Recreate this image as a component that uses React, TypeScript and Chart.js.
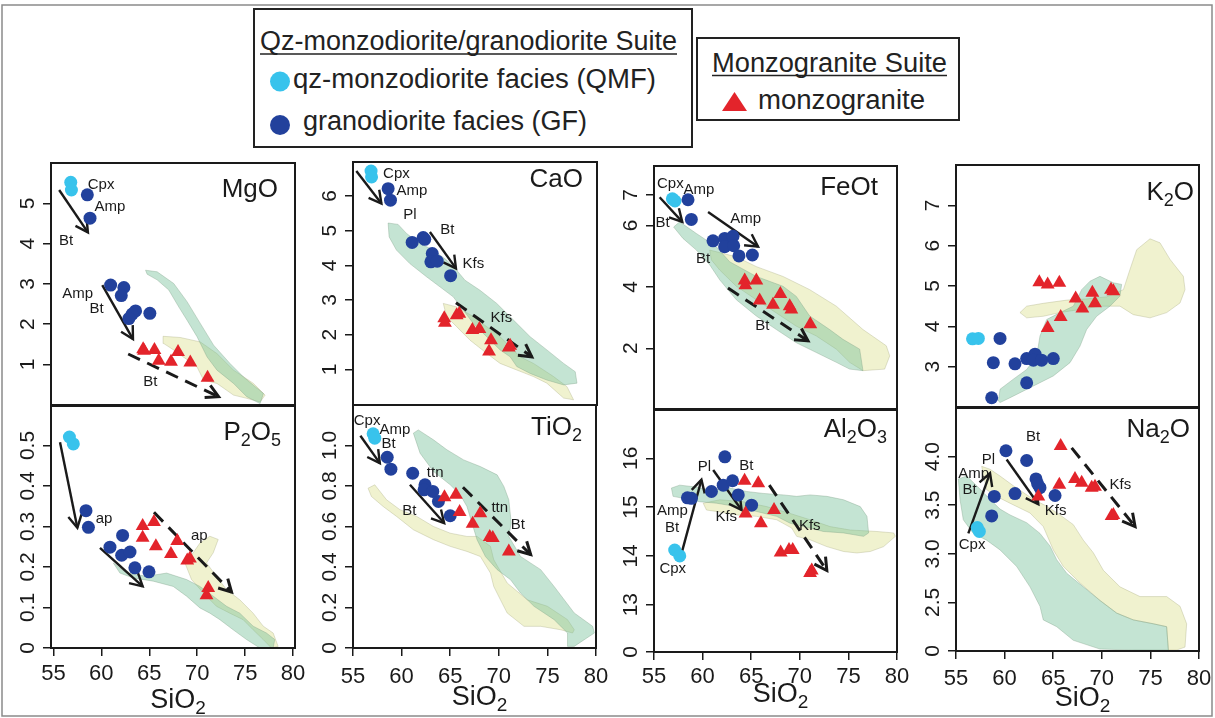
import React, { useEffect, useRef } from "react";
import { Chart, registerables } from "chart.js";

Chart.register(...registerables);

const FONT = '"Liberation Sans", Arial, Helvetica, sans-serif';
const INK = "#1a1a1a";
const QMF_COLOR = "#38C3EC";
const GF_COLOR = "#22419C";
const MZG_COLOR = "#E3242B";
const GREEN_FILL = "rgba(115,190,150,0.42)";
const YELLOW_FILL = "rgba(215,222,130,0.38)";

type Pt = [number, number];
type Arrow = [number, number, number, number, number];
type Lbl = [string, number, number];

// ---------------- shared ticks ----------------
const xTicks = [55, 60, 65, 70, 75, 80];

// ---------------- MgO ----------------
const mgoYTicks = [1, 2, 3, 4, 5];
const mgoYLabels = ["1", "2", "3", "4", "5"];
const mgoQMF: Pt[] = [[56.81, 5.52], [56.88, 5.33]];
const mgoGF: Pt[] = [[58.54, 5.21], [58.82, 4.63], [60.97, 2.97], [62.35, 2.91], [62.08, 2.71], [63.57, 2.33], [63.22, 2.25], [62.87, 2.14], [65.06, 2.27]];
const mgoMZG: Pt[] = [[64.36, 1.38], [64.45, 1.34], [65.54, 1.36], [65.99, 1.09], [67.27, 1.07], [68.0, 1.31], [69.28, 1.05], [71.08, 0.67]];
const mgoGreen: Pt[] = [[64.61, 3.34], [65.82, 3.3], [67.55, 3.01], [68.94, 2.56], [70.32, 2.02], [71.71, 1.48], [73.44, 1.02], [74.83, 0.69], [76.91, 0.28], [76.56, 0.03], [75.17, 0.2], [73.79, 0.53], [72.06, 0.86], [71.02, 1.19], [69.98, 1.69], [68.94, 2.1], [68.07, 2.43], [67.03, 2.85], [65.82, 3.1], [64.78, 3.24]];
const mgoYellow: Pt[] = [[66.44, 1.7], [68.24, 1.67], [70.32, 1.56], [72.06, 1.27], [73.79, 0.86], [75.87, 0.53], [77.08, 0.24], [76.56, 0.07], [75.17, 0.16], [73.79, 0.24], [72.06, 0.53], [70.67, 0.61], [69.98, 0.94], [67.55, 1.36], [66.51, 1.52]];
const mgoArrows: Arrow[] = [[55.6, 5.33, 58.6, 4.28, 0], [60.1, 2.97, 63.3, 1.63, 0], [62.8, 1.26, 72.23, 0.2, 1]];
const mgoLabels: Lbl[] = [["Cpx", 59.97, 5.45], ["Amp", 60.9, 4.92], ["Bt", 56.32, 4.07], ["Amp", 57.54, 2.76], ["Bt", 59.51, 2.37], ["Bt", 65.1, 0.56]];

// ---------------- CaO ----------------
const caoYTicks = [1, 2, 3, 4, 5, 6];
const caoYLabels = ["1", "2", "3", "4", "5", "6"];
const caoQMF: Pt[] = [[56.85, 6.72], [56.9, 6.55]];
const caoGF: Pt[] = [[58.6, 6.21], [58.84, 5.88], [61.06, 4.66], [62.19, 4.8], [62.35, 4.75], [63.12, 4.34], [62.98, 4.1], [63.63, 4.12], [65.0, 3.7]];
const caoMZG: Pt[] = [[64.35, 2.47], [64.42, 2.34], [65.62, 2.56], [65.89, 2.6], [67.23, 2.13], [67.95, 2.16], [69.14, 1.84], [68.94, 1.51], [70.96, 1.63], [71.1, 1.68]];
const caoGreen: Pt[] = [[58.6, 5.22], [59.62, 5.18], [60.48, 4.92], [61.85, 4.63], [63.22, 4.44], [64.59, 4.15], [65.62, 3.86], [66.47, 3.57], [68.01, 3.28], [69.73, 2.9], [71.44, 2.42], [73.15, 1.94], [74.86, 1.56], [76.58, 1.17], [77.77, 0.93], [77.95, 0.6], [76.58, 0.55], [74.86, 0.69], [73.15, 0.88], [71.78, 1.08], [71.1, 1.36], [70.07, 1.56], [68.7, 1.94], [67.33, 2.32], [66.3, 2.71], [65.27, 3.09], [63.9, 3.38], [62.53, 3.67], [60.82, 4.05], [59.45, 4.44], [58.7, 4.82]];
const caoYellow: Pt[] = [[64.25, 2.9], [65.62, 2.8], [67.33, 2.52], [68.7, 2.23], [70.07, 1.94], [71.1, 1.65], [72.12, 1.36], [73.49, 1.17], [75.55, 0.79], [76.92, 0.5], [77.6, 0.12], [76.58, 0.17], [74.86, 0.6], [73.49, 0.79], [71.78, 0.98], [70.07, 1.17], [68.7, 1.46], [66.99, 1.84], [65.62, 2.23], [64.59, 2.52]];
const caoArrows: Arrow[] = [[55.34, 6.72, 57.91, 5.78, 0], [62.88, 4.96, 65.55, 3.91, 0], [65.55, 2.92, 73.32, 1.36, 1]];
const caoLabels: Lbl[] = [["Cpx", 59.45, 6.64], ["Amp", 61.03, 6.16], ["Pl", 60.82, 5.46], ["Bt", 64.66, 5.01], ["Kfs", 67.33, 4.05], ["Kfs", 70.21, 2.47]];

// ---------------- FeOt ----------------
const feYTicks = [2, 4, 6, 7];
const feYLabels = ["2", "4", "6", "7"];
const feQMF: Pt[] = [[56.89, 6.87], [57.16, 6.8]];
const feGF: Pt[] = [[58.5, 6.84], [58.84, 6.2], [61.07, 5.5], [62.27, 5.58], [63.13, 5.65], [62.27, 5.31], [63.2, 5.34], [63.74, 5.01], [65.12, 5.04]];
const feMZG: Pt[] = [[64.33, 4.21], [64.4, 4.05], [65.53, 4.21], [65.87, 3.56], [68.0, 3.77], [67.24, 3.42], [68.96, 3.37], [69.13, 3.26], [71.08, 2.78]];
const feGreen: Pt[] = [[57.02, 5.95], [57.64, 6.12], [59.36, 5.74], [61.41, 5.31], [62.78, 4.82], [65.53, 4.34], [68.27, 4.02], [69.64, 3.69], [71.02, 3.05], [73.07, 2.61], [74.44, 2.29], [76.16, 1.97], [76.5, 1.27], [75.13, 1.32], [73.76, 1.54], [71.7, 1.86], [69.64, 2.18], [67.59, 2.61], [65.53, 3.05], [63.47, 3.58], [61.76, 4.23], [60.73, 4.72], [59.36, 5.2], [57.98, 5.58]];
const feYellow: Pt[] = [[60.73, 5.2], [63.47, 4.98], [65.53, 4.66], [68.27, 4.34], [71.02, 3.91], [73.76, 3.37], [76.5, 2.61], [78.9, 2.08], [79.25, 1.75], [78.73, 1.32], [76.5, 1.27], [75.13, 1.54], [73.76, 1.97], [71.7, 2.4], [69.64, 2.72], [67.59, 3.15], [65.53, 3.58], [63.47, 4.02], [61.76, 4.55], [60.9, 4.88]];
const feArrows: Arrow[] = [[55.58, 6.92, 57.91, 6.12, 0], [60.56, 6.44, 65.7, 5.31, 0], [62.61, 3.96, 70.84, 2.24, 1]];
const feLabels: Lbl[] = [["Cpx", 56.68, 7.36], ["Amp", 59.63, 7.16], ["Bt", 55.89, 6.08], ["Amp", 64.43, 6.22], ["Bt", 60.04, 4.9], ["Bt", 66.15, 2.72]];

// ---------------- K2O ----------------
const k2oYTicks = [3, 4, 5, 6, 7];
const k2oYLabels = ["3", "4", "5", "6", "7"];
const k2oQMF: Pt[] = [[56.7, 3.69], [57.3, 3.7]];
const k2oGF: Pt[] = [[59.53, 3.7], [58.84, 3.1], [61.07, 3.07], [62.27, 3.2], [63.13, 3.31], [62.96, 3.16], [63.81, 3.16], [65.01, 3.2], [62.27, 2.6], [58.67, 2.23]];
const k2oMZG: Pt[] = [[63.57, 5.09], [64.43, 5.04], [65.63, 5.08], [67.31, 4.69], [69.03, 4.83], [69.3, 4.57], [68.0, 4.44], [65.77, 4.23], [64.43, 3.96], [70.95, 4.91], [71.19, 4.87]];
const k2oGreen: Pt[] = [[59.36, 2.15], [59.53, 2.44], [60.9, 2.69], [62.27, 2.93], [63.3, 3.26], [63.64, 3.76], [64.33, 4.17], [65.7, 4.34], [67.07, 4.5], [67.93, 4.91], [68.79, 5.12], [69.81, 5.24], [71.19, 5.08], [72.04, 5.04], [71.87, 4.75], [70.84, 4.5], [69.47, 4.25], [68.44, 3.92], [67.76, 3.51], [66.73, 3.1], [65.01, 2.77], [62.96, 2.52], [60.56, 2.23], [59.53, 2.11]];
const k2oYellow: Pt[] = [[61.58, 4.34], [62.27, 4.5], [63.98, 4.57], [66.39, 4.65], [68.44, 4.68], [70.5, 4.73], [72.22, 4.91], [72.9, 5.41], [73.59, 5.9], [74.96, 6.17], [75.99, 6.07], [77.02, 5.66], [78.39, 5.24], [78.56, 4.91], [78.05, 4.58], [76.67, 4.34], [74.96, 4.21], [73.24, 4.29], [71.87, 4.5], [69.81, 4.5], [67.76, 4.42], [65.7, 4.34], [63.98, 4.25], [62.27, 4.21]];
const k2oArrows: Arrow[] = [];
const k2oLabels: Lbl[] = [];

// ---------------- P2O5 ----------------
const p2o5YTicks = [0, 0.1, 0.2, 0.3, 0.4, 0.5];
const p2o5YLabels = ["0", "0.1", "0.2", "0.3", "0.4", "0.5"];
const p2o5QMF: Pt[] = [[56.67, 0.521], [57.08, 0.504]];
const p2o5GF: Pt[] = [[58.4, 0.339], [58.65, 0.298], [60.9, 0.249], [62.22, 0.278], [62.12, 0.229], [62.99, 0.237], [63.5, 0.198], [64.97, 0.188]];
const p2o5MZG: Pt[] = [[64.31, 0.301], [64.31, 0.272], [65.49, 0.311], [65.69, 0.251], [67.26, 0.232], [67.92, 0.264], [68.96, 0.216], [69.24, 0.221], [71.15, 0.148], [70.97, 0.13]];
const p2o5Green: Pt[] = [[61.25, 0.21], [62.64, 0.185], [64.72, 0.177], [66.81, 0.185], [68.89, 0.169], [70.28, 0.152], [71.67, 0.128], [73.06, 0.103], [74.44, 0.086], [75.83, 0.054], [77.22, 0.037], [78.09, 0.021], [77.92, 0.0], [76.53, 0.0], [75.14, 0.021], [73.75, 0.045], [72.36, 0.07], [71.32, 0.086], [70.28, 0.099], [68.89, 0.128], [67.5, 0.152], [65.42, 0.165], [63.33, 0.173], [61.94, 0.185]];
const p2o5Yellow: Pt[] = [[68.72, 0.21], [69.58, 0.235], [70.28, 0.259], [71.32, 0.276], [72.19, 0.268], [71.67, 0.235], [70.97, 0.21], [72.01, 0.177], [73.06, 0.144], [74.44, 0.119], [75.83, 0.086], [76.88, 0.054], [77.92, 0.037], [78.44, 0.004], [77.74, 0.0], [76.88, 0.021], [75.83, 0.045], [74.79, 0.07], [73.4, 0.086], [72.01, 0.103], [70.63, 0.136], [69.41, 0.169]];
const p2o5Arrows: Arrow[] = [[55.69, 0.508, 57.5, 0.297, 0], [59.86, 0.247, 64.31, 0.152, 0], [65.49, 0.335, 73.58, 0.138, 1]];
const p2o5Labels: Lbl[] = [["ap", 60.28, 0.319], ["ap", 70.21, 0.278]];

// ---------------- TiO2 ----------------
const tio2YTicks = [0, 0.2, 0.4, 0.6, 0.8, 1.0];
const tio2YLabels = ["0", "0.2", "0.4", "0.6", "0.8", "1.0"];
const tio2QMF: Pt[] = [[57.07, 1.058], [57.24, 1.036]];
const tio2GF: Pt[] = [[58.52, 0.942], [58.9, 0.883], [61.14, 0.863], [62.41, 0.806], [62.31, 0.781], [63.21, 0.773], [63.79, 0.724], [65.0, 0.653]];
const tio2MZG: Pt[] = [[64.41, 0.745], [65.59, 0.757], [65.97, 0.671], [67.31, 0.613], [68.1, 0.666], [69.07, 0.548], [69.38, 0.543], [71.03, 0.477]];
const tio2Green: Pt[] = [[61.21, 1.061], [61.72, 1.077], [63.28, 1.028], [64.66, 0.979], [66.38, 0.929], [68.1, 0.896], [69.83, 0.855], [70.52, 0.798], [71.03, 0.732], [71.28, 0.617], [71.03, 0.551], [72.24, 0.452], [74.31, 0.387], [75.69, 0.304], [77.76, 0.173], [79.66, 0.107], [79.83, 0.074], [78.79, 0.041], [77.76, 0.008], [77.07, 0.008], [77.07, 0.074], [75.69, 0.14], [73.62, 0.206], [72.24, 0.271], [71.21, 0.337], [69.83, 0.387], [68.62, 0.452], [67.76, 0.535], [67.24, 0.617], [66.72, 0.699], [66.03, 0.757], [65.0, 0.806], [63.28, 0.872], [61.9, 0.962]];
const tio2Yellow: Pt[] = [[56.55, 0.789], [57.24, 0.806], [58.45, 0.732], [59.83, 0.683], [61.55, 0.65], [63.28, 0.6], [65.0, 0.567], [66.72, 0.551], [67.76, 0.551], [69.14, 0.502], [69.48, 0.436], [70.86, 0.321], [72.93, 0.238], [75.0, 0.206], [77.07, 0.14], [77.76, 0.09], [77.59, 0.074], [76.38, 0.09], [74.31, 0.107], [72.59, 0.107], [70.86, 0.173], [70.17, 0.238], [69.48, 0.304], [69.14, 0.37], [68.1, 0.452], [66.72, 0.477], [65.0, 0.502], [63.28, 0.535], [61.21, 0.584], [59.48, 0.65], [58.1, 0.699], [56.9, 0.748]];
const tio2Arrows: Arrow[] = [[55.76, 1.048, 57.76, 0.913, 0], [60.86, 0.806, 64.38, 0.617, 0], [66.31, 0.794, 73.28, 0.461, 1]];
const tio2Labels: Lbl[] = [["Cpx", 56.45, 1.123], ["Amp", 59.31, 1.077], ["Bt", 58.66, 1.01], ["ttn", 63.45, 0.867], ["Bt", 60.79, 0.679], ["ttn", 70.1, 0.691], ["Bt", 71.97, 0.609]];

// ---------------- Al2O3 (axis break: bottom labelled "0") ----------------
const al2o3YTicks = [12.03, 13, 14, 15, 16];
const al2o3YLabels = ["0", "13", "14", "15", "16"];
const al2o3QMF: Pt[] = [[57.13, 14.12], [57.65, 14.0]];
const al2o3GF: Pt[] = [[62.29, 16.03], [58.44, 15.19], [58.85, 15.18], [60.91, 15.32], [62.12, 15.45], [63.08, 15.54], [63.67, 15.25], [65.04, 15.04]];
const al2o3MZG: Pt[] = [[64.32, 15.54], [65.73, 15.49], [64.42, 14.87], [66.0, 14.67], [67.35, 14.94], [68.03, 14.07], [68.89, 14.12], [69.27, 14.12], [71.06, 13.65], [71.23, 13.7]];
const al2o3Green: Pt[] = [[56.79, 15.39], [57.65, 15.45], [59.37, 15.41], [60.74, 15.35], [62.81, 15.39], [64.53, 15.32], [66.24, 15.28], [68.31, 15.25], [69.68, 15.22], [71.06, 15.25], [72.78, 15.22], [74.5, 15.15], [76.22, 15.01], [76.91, 14.81], [77.08, 14.47], [76.56, 14.4], [74.5, 14.47], [72.43, 14.5], [70.37, 14.6], [69.0, 14.67], [67.62, 14.81], [65.56, 14.91], [63.49, 15.01], [61.43, 15.08], [59.71, 15.11], [57.99, 15.18], [56.96, 15.22]];
const al2o3Yellow: Pt[] = [[60.06, 15.08], [61.77, 15.15], [64.18, 15.11], [66.59, 15.01], [69.0, 14.87], [71.06, 14.74], [73.12, 14.6], [75.19, 14.53], [77.94, 14.5], [79.66, 14.47], [79.83, 14.4], [78.62, 14.19], [77.25, 14.09], [75.87, 14.06], [74.5, 14.09], [72.78, 14.19], [71.06, 14.33], [69.68, 14.4], [69.17, 14.57], [67.62, 14.74], [65.56, 14.81], [63.49, 14.84], [61.43, 14.91], [60.4, 14.94]];
const al2o3Arrows: Arrow[] = [[57.75, 13.99, 59.88, 15.56, 0], [61.09, 15.76, 64.01, 14.94, 0], [66.86, 15.45, 72.78, 13.7, 1]];
const al2o3Labels: Lbl[] = [["Pl", 60.19, 15.83], ["Bt", 64.49, 15.84], ["Amp", 56.89, 14.92], ["Bt", 56.86, 14.58], ["Cpx", 56.93, 13.73], ["Kfs", 62.43, 14.79], ["Kfs", 71.02, 14.62]];

// ---------------- Na2O (axis break: bottom labelled "0") ----------------
const na2oYTicks = [2.0, 2.5, 3.0, 3.5, 4.0];
const na2oYLabels = ["0", "2.5", "3.0", "3.5", "4.0"];
const na2oQMF: Pt[] = [[57.19, 3.27], [57.4, 3.23]];
const na2oGF: Pt[] = [[60.14, 4.06], [62.27, 3.96], [63.23, 3.77], [63.64, 3.68], [61.07, 3.62], [58.94, 3.59], [58.67, 3.39], [65.19, 3.6], [63.4, 3.72]];
const na2oMZG: Pt[] = [[65.77, 4.11], [65.63, 3.71], [67.24, 3.77], [67.93, 3.73], [68.96, 3.68], [69.3, 3.69], [63.47, 3.59], [71.01, 3.39], [71.19, 3.4]];
const na2oGreen: Pt[] = [[55.24, 3.77], [56.1, 3.8], [57.13, 3.7], [58.5, 3.56], [59.53, 3.46], [60.56, 3.4], [62.27, 3.32], [63.64, 3.21], [64.67, 3.08], [65.36, 2.94], [66.39, 2.8], [68.1, 2.66], [69.81, 2.52], [71.53, 2.39], [73.24, 2.32], [75.3, 2.28], [76.67, 2.25], [76.85, 2.01], [73.24, 2.01], [69.81, 2.02], [67.07, 2.11], [65.36, 2.25], [63.98, 2.32], [63.64, 2.46], [62.61, 2.66], [61.24, 2.87], [59.53, 3.04], [58.15, 3.14], [56.78, 3.21], [55.75, 3.35], [55.41, 3.56]];
const na2oYellow: Pt[] = [[57.64, 3.9], [58.5, 3.87], [59.53, 3.8], [60.9, 3.7], [61.93, 3.63], [62.96, 3.56], [64.33, 3.49], [65.7, 3.4], [67.07, 3.3], [68.1, 3.14], [69.13, 3.01], [70.16, 2.83], [71.87, 2.66], [73.93, 2.56], [76.67, 2.56], [78.05, 2.46], [78.73, 2.28], [78.56, 2.04], [77.7, 2.01], [76.85, 2.01], [76.67, 2.25], [75.3, 2.28], [73.24, 2.32], [71.53, 2.39], [69.81, 2.52], [67.76, 2.7], [66.04, 2.87], [65.01, 3.04], [63.98, 3.28], [62.61, 3.42], [60.56, 3.52], [59.18, 3.59], [58.15, 3.66]];
const na2oArrows: Arrow[] = [[56.27, 3.21, 58.5, 3.83, 0], [60.21, 3.97, 63.47, 3.51, 0], [66.9, 4.09, 73.42, 3.28, 1]];
const na2oLabels: Lbl[] = [["Bt", 62.92, 4.2], ["Pl", 58.33, 3.97], ["Amp", 56.82, 3.82], ["Bt", 56.41, 3.66], ["Cpx", 56.65, 3.09], ["Kfs", 65.25, 3.44], ["Kfs", 71.91, 3.71]];

// ---------------- panel layout ----------------
type Panel = {
  key: string;
  box: [number, number, number, number];
  xRange: [number, number];
  yRange: [number, number];
  yTicks: number[];
  yLabels: string[];
  title: [string, number][];
  titleOff: [number, number];
  bottomRow: boolean;
  xLabelOff: number;
  xTitleOff: number;
  qmf: Pt[]; gf: Pt[]; mzg: Pt[]; green: Pt[]; yellow: Pt[]; arrows: Arrow[]; labels: Lbl[];
};

const panels: Panel[] = [
  { key: "MgO", box: [51, 163, 295, 406], xRange: [54.75, 80.2], yRange: [-0.03, 6.0], yTicks: mgoYTicks, yLabels: mgoYLabels, title: [["MgO", 0]], titleOff: [17, 34], bottomRow: false, xLabelOff: 0, xTitleOff: 0, qmf: mgoQMF, gf: mgoGF, mzg: mgoMZG, green: mgoGreen, yellow: mgoYellow, arrows: mgoArrows, labels: mgoLabels },
  { key: "CaO", box: [353, 162, 597, 405], xRange: [55, 80], yRange: [-0.03, 6.98], yTicks: caoYTicks, yLabels: caoYLabels, title: [["CaO", 0]], titleOff: [14, 25], bottomRow: false, xLabelOff: 0, xTitleOff: 0, qmf: caoQMF, gf: caoGF, mzg: caoMZG, green: caoGreen, yellow: caoYellow, arrows: caoArrows, labels: caoLabels },
  { key: "FeOt", box: [654, 166, 897, 409], xRange: [55, 80], yRange: [0.02, 7.94], yTicks: feYTicks, yLabels: feYLabels, title: [["FeOt", 0]], titleOff: [19, 29], bottomRow: false, xLabelOff: 0, xTitleOff: 0, qmf: feQMF, gf: feGF, mzg: feMZG, green: feGreen, yellow: feYellow, arrows: feArrows, labels: feLabels },
  { key: "K2O", box: [956, 165, 1199, 407], xRange: [55, 80], yRange: [2.0, 8.0], yTicks: k2oYTicks, yLabels: k2oYLabels, title: [["K", 0], ["2", 1], ["O", 0]], titleOff: [5, 35], bottomRow: false, xLabelOff: 0, xTitleOff: 0, qmf: k2oQMF, gf: k2oGF, mzg: k2oMZG, green: k2oGreen, yellow: k2oYellow, arrows: k2oArrows, labels: k2oLabels },
  { key: "P2O5", box: [51, 405, 295, 648], xRange: [54.75, 80.2], yRange: [0, 0.6], yTicks: p2o5YTicks, yLabels: p2o5YLabels, title: [["P", 0], ["2", 1], ["O", 0], ["5", 1]], titleOff: [14, 35], bottomRow: true, xLabelOff: 32, xTitleOff: 60, qmf: p2o5QMF, gf: p2o5GF, mzg: p2o5MZG, green: p2o5Green, yellow: p2o5Yellow, arrows: p2o5Arrows, labels: p2o5Labels },
  { key: "TiO2", box: [353, 405, 596, 648], xRange: [55, 80], yRange: [0, 1.2], yTicks: tio2YTicks, yLabels: tio2YLabels, title: [["TiO", 0], ["2", 1]], titleOff: [14, 30], bottomRow: true, xLabelOff: 35, xTitleOff: 57, qmf: tio2QMF, gf: tio2GF, mzg: tio2MZG, green: tio2Green, yellow: tio2Yellow, arrows: tio2Arrows, labels: tio2Labels },
  { key: "Al2O3", box: [654, 410, 897, 652], xRange: [55, 80], yRange: [12.03, 16.99], yTicks: al2o3YTicks, yLabels: al2o3YLabels, title: [["Al", 0], ["2", 1], ["O", 0], ["3", 1]], titleOff: [10, 27], bottomRow: true, xLabelOff: 31, xTitleOff: 50, qmf: al2o3QMF, gf: al2o3GF, mzg: al2o3MZG, green: al2o3Green, yellow: al2o3Yellow, arrows: al2o3Arrows, labels: al2o3Labels },
  { key: "Na2O", box: [956, 408, 1199, 651], xRange: [55, 80], yRange: [2.0, 4.5], yTicks: na2oYTicks, yLabels: na2oYLabels, title: [["Na", 0], ["2", 1], ["O", 0]], titleOff: [9, 29], bottomRow: true, xLabelOff: 34, xTitleOff: 55, qmf: na2oQMF, gf: na2oGF, mzg: na2oMZG, green: na2oGreen, yellow: na2oYellow, arrows: na2oArrows, labels: na2oLabels },
];

const W = 1215;
const H = 718;
const TICK = 8;

function toXY(a: Pt[]) {
  return a.map(([x, y]) => ({ x, y }));
}
function closed(a: Pt[]) {
  return toXY(a.length ? [...a, a[0]] : a);
}

function drawArrow(ctx: CanvasRenderingContext2D, x1: number, y1: number, x2: number, y2: number, dashed: boolean) {
  ctx.save();
  ctx.strokeStyle = INK;
  ctx.lineCap = "butt";
  ctx.lineJoin = "miter";
  ctx.lineWidth = dashed ? 3 : 2.4;
  ctx.setLineDash(dashed ? [13, 8] : []);
  ctx.beginPath();
  ctx.moveTo(x1, y1);
  ctx.lineTo(x2, y2);
  ctx.stroke();
  ctx.setLineDash([]);
  const a = Math.atan2(y2 - y1, x2 - x1);
  const L = 14;
  const w = 0.5;
  ctx.beginPath();
  ctx.moveTo(x2 - L * Math.cos(a - w), y2 - L * Math.sin(a - w));
  ctx.lineTo(x2, y2);
  ctx.lineTo(x2 - L * Math.cos(a + w), y2 - L * Math.sin(a + w));
  ctx.stroke();
  ctx.restore();
}

function drawRich(ctx: CanvasRenderingContext2D, parts: [string, number][], xRight: number | null, xCenter: number | null, base: number, size: number) {
  const subSize = Math.round(size * 0.7);
  const subDrop = size * 0.24;
  let total = 0;
  const widths = parts.map(([t, sub]) => {
    ctx.font = `${sub ? subSize : size}px ${FONT}`;
    const w = ctx.measureText(t).width;
    total += w;
    return w;
  });
  let x = xRight != null ? xRight - total : (xCenter as number) - total / 2;
  ctx.textAlign = "left";
  ctx.textBaseline = "alphabetic";
  parts.forEach(([t, sub], i) => {
    ctx.font = `${sub ? subSize : size}px ${FONT}`;
    ctx.fillText(t, x, base + (sub ? subDrop : 0));
    x += widths[i];
  });
}

function makeDecor(p: Panel) {
  return {
    id: "decor" + p.key,
    afterDatasetDraw(chart: any, args: any) {
      if (chart.data.datasets[args.index].label !== "green field") return;
      const { ctx, chartArea: a, scales } = chart;
      const sx = scales.x;
      const sy = scales.y;
      ctx.save();
      ctx.beginPath();
      ctx.rect(a.left, a.top, a.right - a.left, a.bottom - a.top);
      ctx.clip();
      p.arrows.forEach(([x1, y1, x2, y2, d]) =>
        drawArrow(ctx, sx.getPixelForValue(x1), sy.getPixelForValue(y1), sx.getPixelForValue(x2), sy.getPixelForValue(y2), !!d)
      );
      ctx.restore();
    },
    afterDatasetsDraw(chart: any) {
      const { ctx, chartArea: a, scales } = chart;
      const sx = scales.x;
      const sy = scales.y;
      ctx.save();
      ctx.fillStyle = INK;
      // annotation labels
      ctx.font = `15px ${FONT}`;
      ctx.textAlign = "center";
      ctx.textBaseline = "middle";
      p.labels.forEach(([t, lx, ly]) => ctx.fillText(t, sx.getPixelForValue(lx), sy.getPixelForValue(ly)));
      // frame
      ctx.strokeStyle = INK;
      ctx.lineWidth = 2;
      ctx.strokeRect(a.left, a.top, a.right - a.left, a.bottom - a.top);
      // panel title
      drawRich(ctx, p.title, a.right - p.titleOff[0], null, a.top + p.titleOff[1], 26);
      // y tick labels (rotated, R style)
      ctx.font = `21px ${FONT}`;
      ctx.textAlign = "center";
      ctx.textBaseline = "alphabetic";
      p.yTicks.forEach((v, i) => {
        ctx.save();
        ctx.translate(a.left - 17, sy.getPixelForValue(v));
        ctx.rotate(-Math.PI / 2);
        ctx.fillText(p.yLabels[i], 0, 0);
        ctx.restore();
      });
      // x tick labels + axis title
      if (p.bottomRow) {
        ctx.font = `22px ${FONT}`;
        ctx.textAlign = "center";
        ctx.textBaseline = "alphabetic";
        xTicks.forEach((v) => ctx.fillText(String(v), sx.getPixelForValue(v), a.bottom + p.xLabelOff));
        drawRich(ctx, [["SiO", 0], ["2", 1]], null, (a.left + a.right) / 2 + 5, a.bottom + p.xTitleOff, 27);
      }
      ctx.restore();
    },
  };
}

function buildConfig(p: Panel): any {
  const [l, t, r, b] = p.box;
  const gridOpts = { display: true, drawOnChartArea: false, drawTicks: true, tickLength: TICK, color: INK, lineWidth: 1.5 };
  return {
    type: "scatter",
    data: {
      datasets: [
        { type: "scatter", label: "monzogranite", data: toXY(p.mzg), pointStyle: "triangle", pointRadius: 8, backgroundColor: MZG_COLOR, borderWidth: 0, order: 0 },
        { type: "scatter", label: "granodiorite facies (GF)", data: toXY(p.gf), pointStyle: "circle", pointRadius: 6.5, backgroundColor: GF_COLOR, borderWidth: 0, order: 0 },
        { type: "scatter", label: "qz-monzodiorite facies (QMF)", data: toXY(p.qmf), pointStyle: "circle", pointRadius: 6.5, backgroundColor: QMF_COLOR, borderWidth: 0, order: 0 },
        { type: "line", label: "green field", data: closed(p.green), fill: "shape", backgroundColor: GREEN_FILL, borderColor: "rgba(120,155,130,0.35)", borderWidth: 1, pointRadius: 0, tension: 0, order: 1 },
        { type: "line", label: "yellow field", data: closed(p.yellow), fill: "shape", backgroundColor: YELLOW_FILL, borderColor: "rgba(165,170,125,0.35)", borderWidth: 1, pointRadius: 0, tension: 0, order: 2 },
      ],
    },
    options: {
      animation: false,
      responsive: false,
      devicePixelRatio: 1,
      events: [],
      layout: { padding: { left: l - TICK, top: t, right: W - r, bottom: H - b - (p.bottomRow ? TICK : 0) } },
      plugins: { legend: { display: false }, tooltip: { enabled: false }, title: { display: false } },
      scales: {
        x: {
          type: "linear",
          min: p.xRange[0],
          max: p.xRange[1],
          display: p.bottomRow,
          afterBuildTicks: (s: any) => { s.ticks = xTicks.map((v) => ({ value: v })); },
          afterFit: (s: any) => { s.height = p.bottomRow ? TICK : 0; s.paddingLeft = 0; s.paddingRight = 0; },
          ticks: { display: false },
          grid: gridOpts,
          border: { display: false },
        },
        y: {
          type: "linear",
          min: p.yRange[0],
          max: p.yRange[1],
          afterBuildTicks: (s: any) => { s.ticks = p.yTicks.map((v) => ({ value: v })); },
          afterFit: (s: any) => { s.width = TICK; s.paddingTop = 0; s.paddingBottom = 0; },
          ticks: { display: false },
          grid: gridOpts,
          border: { display: false },
        },
      },
    },
    plugins: [makeDecor(p)],
  };
}

function PanelChart({ p }: { p: Panel }) {
  const ref = useRef<HTMLCanvasElement>(null);
  useEffect(() => {
    const canvas = ref.current;
    if (!canvas) return;
    const chart = new Chart(canvas, buildConfig(p));
    return () => chart.destroy();
  }, [p]);
  return <canvas ref={ref} width={W} height={H} style={{ position: "absolute", left: 0, top: 0, width: W, height: H }} />;
}

function Legend() {
  const txt = { fontFamily: FONT, fontSize: 27, fill: "#222" } as any;
  return (
    <svg width={W} height={H} style={{ position: "absolute", left: 0, top: 0 }}>
      <rect x={2} y={5} width={1210} height={711} fill="none" stroke="#8a8a8a" strokeWidth={1.5} />
      <rect x={254} y={9} width={438} height={138} fill="none" stroke="#222" strokeWidth={2} />
      <text x={260} y={50} {...txt} textLength={417} lengthAdjust="spacingAndGlyphs">Qz-monzodiorite/granodiorite Suite</text>
      <line x1={260} x2={677} y1={54} y2={54} stroke="#222" strokeWidth={1.5} />
      <circle cx={280} cy={81.5} r={10} fill={QMF_COLOR} />
      <text x={293} y={88} {...txt} textLength={363} lengthAdjust="spacingAndGlyphs">qz-monzodiorite facies (QMF)</text>
      <circle cx={280} cy={125} r={10} fill={GF_COLOR} />
      <text x={303} y={130} {...txt} textLength={284} lengthAdjust="spacingAndGlyphs">granodiorite facies (GF)</text>
      <rect x={697} y={38} width={262} height={82} fill="none" stroke="#222" strokeWidth={2} />
      <text x={712} y={72} {...txt} textLength={235} lengthAdjust="spacingAndGlyphs">Monzogranite Suite</text>
      <line x1={712} x2={947} y1={75.5} y2={75.5} stroke="#222" strokeWidth={1.5} />
      <polygon points="734.5,92 722,111 747,111" fill={MZG_COLOR} />
      <text x={758} y={109} {...txt} textLength={167} lengthAdjust="spacingAndGlyphs">monzogranite</text>
    </svg>
  );
}

export default function App() {
  return (
    <div style={{ position: "absolute", left: 0, top: 0, width: W, height: H, background: "#fff", overflow: "hidden" }}>
      <Legend />
      {panels.map((p) => (
        <PanelChart key={p.key} p={p} />
      ))}
    </div>
  );
}
